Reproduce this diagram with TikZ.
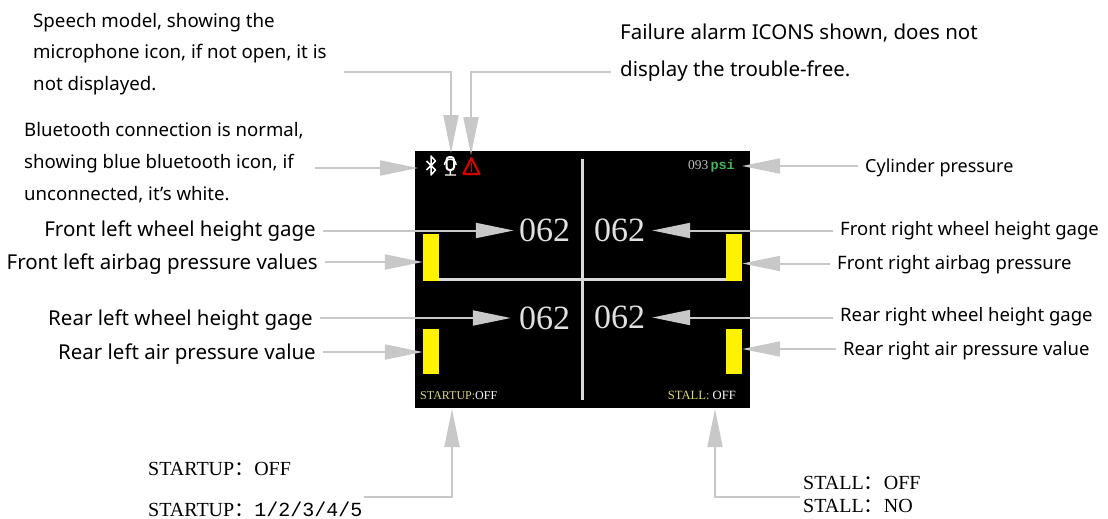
\documentclass[tikz,border=0pt]{standalone}
\usepackage{fontspec}
\setmainfont{Noto Sans}
\newfontfamily\lcdface{Liberation Serif}
\newfontfamily\lcdmono{Liberation Mono}
\newfontfamily\cjkface{Noto Sans CJK SC}
\usetikzlibrary{arrows.meta}
\definecolor{calloutgray}{HTML}{C8C8C8}
\definecolor{lcdyellow}{HTML}{D9D97A}
\definecolor{lcdgreen}{HTML}{45B55A}
\tikzset{
  callout/.style={draw=calloutgray, line width=2pt, -{Triangle[length=38pt,width=15pt]}},
  lblleft/.style={anchor=east, inner xsep=7pt, inner ysep=0pt, text height=15pt, text depth=0pt, font=\fontsize{20.5}{24}\selectfont},
  lblright/.style={anchor=west, inner xsep=7pt, inner ysep=0pt, text height=12pt, text depth=0pt, font=\fontsize{18.5}{22}\selectfont},
  lblnote/.style={anchor=west, align=left, inner sep=0pt},
  lblmode/.style={anchor=west, inner sep=0pt, font=\lcdface\fontsize{20}{24}\selectfont},
  heightval/.style={text=white!88!black, inner sep=0pt, font=\lcdface\fontsize{34}{40}\selectfont},
  airbar/.style={fill=yellow, minimum width=16pt, inner sep=0pt},
  lcdline/.style={draw=white!85!black, line width=2.2pt}
}
\begin{document}
\begin{tikzpicture}[x=1pt, y=-1pt]
  \useasboundingbox (0,0) rectangle (1108,519);
  \node[fill=black, minimum width=335pt, minimum height=257pt, inner sep=0pt] (screen) at (582.5,279.5) {};
  \draw[lcdline] (582.5,159) -- (582.5,400);
  \draw[lcdline] (430,279.5) -- (735,279.5);
  \node[airbar, minimum height=47pt] (barFL) at (431,257.5) {};
  \node[airbar, minimum height=47pt] (barFR) at (734,257.5) {};
  \node[airbar, minimum height=45pt] (barRL) at (431,351.5) {};
  \node[airbar, minimum height=45pt] (barRR) at (734,351.5) {};
  \node[heightval] (valFL) at (544.5,230.5) {062};
  \node[heightval] (valFR) at (619.5,230.5) {062};
  \node[heightval] (valRL) at (544.5,318) {062};
  \node[heightval] (valRR) at (619.5,317.5) {062};
  \node[anchor=east, inner sep=0pt, font=\fontsize{13.5}{15}\selectfont, text=white!75!black] (cyl) at (735,166) {\lcdface 093\,\textcolor{lcdgreen}{\lcdmono\bfseries psi}};
  \node[anchor=west, inner sep=0pt, font=\lcdface\fontsize{12}{14}\selectfont] (startup) at (420,396) {\textcolor{lcdyellow}{STARTUP:}\textcolor{white}{OFF}};
  \node[anchor=east, inner sep=0pt, font=\lcdface\fontsize{12.6}{14}\selectfont] (stall) at (736,395) {\textcolor{lcdyellow}{STALL:}\textcolor{white}{\ OFF}};
  % icons
  \draw[white, line width=1.5pt, line join=round] (426.5,161) -- (435.5,170) -- (431,175) -- (431,156) -- (435.5,161) -- (426.5,170);
  \draw[white, line width=2pt, rounded corners=3pt] (446.5,157) rectangle (454,170);
  \draw[white, line width=1.4pt] (444.5,165) arc (180:360:5.8) (450.3,171) -- (450.3,174) (445,175) -- (456,175);
  \draw[red!85!black, line width=2.2pt, line join=round] (471.5,158) -- (479.5,174) -- (463.5,174) -- cycle;
  \draw[red!85!black, line width=1.6pt] (471.5,163) -- (471.5,172);
  % top notes
  \node[lblnote, font=\fontsize{18.7}{31.5}\selectfont] (lblMic) at (33,54) {Speech model, showing the\\microphone icon, if not open, it is\\not displayed.};
  \node[lblnote, font=\fontsize{20.5}{37}\selectfont] (lblAlarm) at (620,53) {Failure alarm ICONS shown, does not\\display the trouble-free.};
  \node[lblnote, font=\fontsize{18.6}{32}\selectfont] (lblBt) at (24,163) {Bluetooth connection is normal,\\showing blue bluetooth icon, if\\unconnected, it\symbol{39}s white.};
  \coordinate (micStart) at (344,72);
  \coordinate (micTip) at (451,153);
  \coordinate (alarmStart) at (611,72.5);
  \coordinate (alarmTip) at (471,155);
  \coordinate (btStart) at (315,168);
  \coordinate (btTip) at (418,168);
  \draw[callout] (micStart) -| (micTip);
  \draw[callout] (alarmStart) -| (alarmTip);
  \draw[callout] (btStart) -- (btTip);
  \node[lblright, font=\fontsize{18}{22}\selectfont] (lblCyl) at (858,166) {Cylinder pressure};
  \draw[callout] (lblCyl.west) -- (cyl.east -| 742,0);
  % left side
  \node[lblleft] (lblFL) at (323,228.5) {Front left wheel height gage};
  \node[lblleft] (lblAirFL) at (325,262) {Front left airbag pressure values};
  \node[lblleft] (lblRL) at (320,318) {Rear left wheel height gage};
  \node[lblleft] (lblAirRL) at (323,352) {Rear left air pressure value};
  \draw[callout] (lblFL.east |- valFL) -- ([xshift=-5pt]valFL.west);
  \draw[callout] (lblAirFL.east) -- (lblAirFL.east -| barFL.west);
  \draw[callout] (lblRL.east |- valRL) -- ([xshift=-8pt]valRL.west);
  \draw[callout] (lblAirRL.east) -- (lblAirRL.east -| barRL.west);
  % right side
  \node[lblright] (lblFR) at (833,229) {Front right wheel height gage};
  \node[lblright] (lblAirFR) at (830,263.5) {Front right airbag pressure};
  \node[lblright] (lblRR) at (833,315.5) {Rear right wheel height gage};
  \node[lblright] (lblAirRR) at (836,349) {Rear right air pressure value};
  \draw[callout] (lblFR.west |- valFR) -- ([xshift=7pt]valFR.east);
  \draw[callout] (lblAirFR.west) -- (lblAirFR.west -| barFR.east);
  \draw[callout] (lblRR.west |- valRR) -- ([xshift=7pt]valRR.east);
  \draw[callout] (lblAirRR.west) -- (lblAirRR.west -| barRR.east);
  % bottom
  \node[lblmode] (lblStartOff) at (148,469) {STARTUP{\cjkface ：}OFF};
  \node[lblmode] (lblStartNum) at (148,509) {STARTUP{\cjkface ：}{\lcdmono 1/2/3/4/5}};
  \node[lblmode] (lblStallOff) at (803,483) {STALL{\cjkface ：}OFF};
  \node[lblmode] (lblStallNo) at (803,506) {STALL{\cjkface ：}NO};
  \coordinate (startupStart) at (364,497);
  \coordinate (stallStart) at (800,497);
  \draw[callout] (startupStart) -| (452,409);
  \draw[callout] (stallStart) -| (715,409);
\end{tikzpicture}
\end{document}
